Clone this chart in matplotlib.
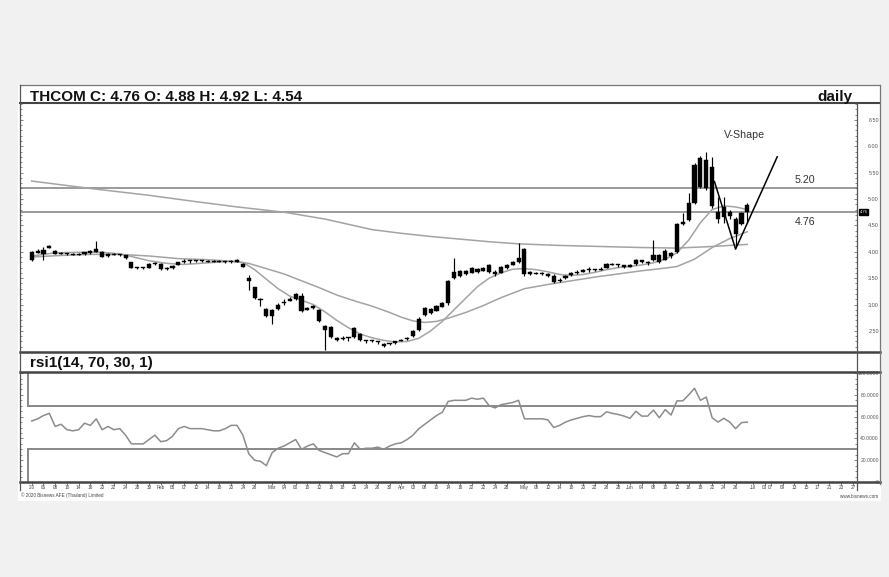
import matplotlib
matplotlib.use("Agg")
import matplotlib.pyplot as plt
import numpy as np
import pandas as pd
from matplotlib.lines import Line2D
from matplotlib.patches import Rectangle
from matplotlib.ticker import MultipleLocator
from matplotlib.transforms import blended_transform_factory

plt.rcParams['font.family'] = ['Liberation Sans', 'DejaVu Sans']

# ------------------------------------------------------------------ data
title = "THCOM C: 4.76 O: 4.88 H: 4.92 L: 4.54"
period = "daily"
rsi_title = "rsi1(14, 70, 30, 1)"

opens = [4.00, 3.98, 3.96, 4.08, 4.02, 3.96, 3.97, 3.95, 3.94, 3.95,
         4.02, 4.00, 4.00, 3.92, 3.95, 3.94, 3.93, 3.80, 3.70, 3.69,
         3.70, 3.76, 3.77, 3.67, 3.69, 3.75, 3.80, 3.83, 3.82, 3.82,
         3.83, 3.81, 3.81, 3.82, 3.80, 3.81, 3.77, 3.50, 3.33, 3.10,
         2.92, 2.78, 2.91, 3.02, 3.07, 3.10, 3.16, 2.90, 2.93, 2.89,
         2.60, 2.58, 2.36, 2.35, 2.36, 2.38, 2.45, 2.32, 2.30, 2.29,
         2.26, 2.25, 2.27, 2.31, 2.34, 2.40, 2.51, 2.80, 2.84, 2.88,
         2.96, 3.02, 3.50, 3.55, 3.63, 3.60, 3.67, 3.64, 3.74, 3.62,
         3.60, 3.70, 3.75, 3.80, 4.06, 3.62, 3.58, 3.60, 3.58, 3.55,
         3.44, 3.50, 3.56, 3.60, 3.62, 3.65, 3.66, 3.66, 3.70, 3.76,
         3.75, 3.72, 3.74, 3.76, 3.84, 3.79, 3.85, 3.93, 3.85, 3.97,
         4.00, 4.52, 4.60, 4.92, 5.77, 5.21, 5.61, 4.76, 4.66, 4.76,
         4.63, 4.52, 4.88]
highs = [4.02, 4.06, 4.09, 4.13, 4.03, 3.99, 3.98, 3.97, 3.97, 4.00,
         4.03, 4.20, 4.01, 3.98, 3.97, 3.96, 3.94, 3.81, 3.71, 3.72,
         3.78, 3.80, 3.78, 3.72, 3.75, 3.81, 3.87, 3.85, 3.84, 3.85,
         3.85, 3.84, 3.85, 3.83, 3.84, 3.86, 3.78, 3.56, 3.34, 3.12,
         2.94, 2.91, 3.02, 3.11, 3.14, 3.22, 3.22, 2.95, 3.00, 2.92,
         2.62, 2.60, 2.38, 2.40, 2.38, 2.58, 2.46, 2.33, 2.32, 2.31,
         2.27, 2.28, 2.31, 2.34, 2.38, 2.51, 2.77, 2.96, 2.93, 3.00,
         3.05, 3.47, 3.89, 3.66, 3.66, 3.72, 3.69, 3.72, 3.76, 3.65,
         3.73, 3.77, 3.82, 4.17, 4.08, 3.64, 3.62, 3.61, 3.59, 3.57,
         3.50, 3.56, 3.62, 3.65, 3.68, 3.71, 3.68, 3.71, 3.79, 3.78,
         3.76, 3.75, 3.77, 3.87, 3.85, 3.82, 4.23, 3.96, 4.05, 4.00,
         4.54, 4.74, 5.11, 5.68, 5.82, 5.90, 5.79, 5.04, 5.04, 4.80,
         4.65, 4.76, 4.92]
lows = [3.82, 3.97, 3.85, 4.07, 3.95, 3.95, 3.94, 3.93, 3.93, 3.94,
        3.96, 3.99, 3.90, 3.91, 3.93, 3.92, 3.87, 3.69, 3.67, 3.68,
        3.69, 3.75, 3.66, 3.66, 3.68, 3.74, 3.79, 3.79, 3.80, 3.81,
        3.81, 3.80, 3.80, 3.78, 3.79, 3.80, 3.71, 3.28, 3.10, 2.98,
        2.77, 2.64, 2.90, 3.00, 3.06, 3.09, 2.86, 2.89, 2.91, 2.67,
        2.13, 2.36, 2.30, 2.32, 2.31, 2.36, 2.30, 2.28, 2.29, 2.26,
        2.20, 2.24, 2.26, 2.30, 2.33, 2.39, 2.50, 2.78, 2.82, 2.87,
        2.95, 3.00, 3.49, 3.52, 3.56, 3.59, 3.59, 3.63, 3.60, 3.55,
        3.59, 3.68, 3.74, 3.78, 3.55, 3.56, 3.57, 3.56, 3.53, 3.40,
        3.42, 3.49, 3.55, 3.58, 3.61, 3.62, 3.64, 3.65, 3.69, 3.74,
        3.71, 3.70, 3.72, 3.74, 3.78, 3.75, 3.83, 3.78, 3.84, 3.89,
        3.98, 4.50, 4.58, 4.90, 5.20, 5.18, 4.83, 4.54, 4.54, 4.62,
        4.10, 4.50, 4.54]
closes = [3.84, 4.02, 4.03, 4.11, 3.96, 3.98, 3.95, 3.94, 3.95, 3.99,
          3.97, 4.05, 3.91, 3.95, 3.94, 3.95, 3.88, 3.70, 3.69, 3.70,
          3.76, 3.79, 3.67, 3.69, 3.73, 3.80, 3.83, 3.82, 3.82, 3.82,
          3.81, 3.80, 3.80, 3.81, 3.83, 3.85, 3.72, 3.45, 3.12, 3.08,
          2.78, 2.90, 3.00, 3.05, 3.10, 3.20, 2.87, 2.93, 2.97, 2.68,
          2.52, 2.38, 2.33, 2.36, 2.37, 2.56, 2.32, 2.31, 2.31, 2.30,
          2.21, 2.27, 2.30, 2.33, 2.37, 2.50, 2.73, 2.93, 2.92, 2.97,
          3.03, 3.45, 3.61, 3.64, 3.58, 3.70, 3.62, 3.70, 3.62, 3.57,
          3.72, 3.74, 3.80, 3.88, 3.57, 3.58, 3.60, 3.58, 3.54, 3.42,
          3.47, 3.55, 3.60, 3.62, 3.66, 3.68, 3.67, 3.67, 3.77, 3.75,
          3.74, 3.73, 3.72, 3.85, 3.80, 3.80, 3.93, 3.80, 4.02, 3.92,
          4.52, 4.57, 4.92, 5.65, 5.23, 5.74, 4.86, 4.62, 4.84, 4.68,
          4.33, 4.73, 4.76]

# moving averages (candle index, price)
ma_short_idx = [0, 4, 8, 12, 15, 17, 20, 23, 26, 30, 34, 36, 38, 40, 42, 44, 46, 48,
                50, 52, 54, 56, 58, 60, 62, 64, 66, 68, 70, 72, 74, 76, 78, 80, 82,
                84, 86, 88, 90, 92, 94, 96, 98, 100, 102, 104, 106, 108, 110, 112,
                114, 116, 118, 120, 122]
ma_short_val = [3.92, 3.98, 3.99, 3.99, 3.96, 3.91, 3.83, 3.78, 3.76, 3.79, 3.82, 3.80,
                3.66, 3.48, 3.30, 3.16, 3.08, 3.00, 2.86, 2.70, 2.56, 2.44, 2.37, 2.32,
                2.29, 2.30, 2.36, 2.50, 2.68, 2.90, 3.12, 3.34, 3.50, 3.60, 3.67, 3.68,
                3.66, 3.62, 3.57, 3.55, 3.57, 3.61, 3.66, 3.70, 3.72, 3.75, 3.79, 3.86,
                3.98, 4.22, 4.55, 4.80, 4.87, 4.85, 4.80]
ma_mid_idx = [0, 5, 10, 15, 20, 25, 30, 34, 37, 40, 43, 46, 49, 52, 55, 58, 61, 63,
              65, 67, 69, 71, 74, 77, 80, 84, 88, 92, 96, 100, 104, 108, 110, 113,
              116, 119, 122]
ma_mid_val = [3.90, 3.93, 3.95, 3.95, 3.92, 3.87, 3.85, 3.82, 3.78, 3.68, 3.58, 3.45,
              3.32, 3.18, 3.07, 2.97, 2.85, 2.76, 2.69, 2.66, 2.68, 2.74, 2.85, 2.98,
              3.13, 3.30, 3.38, 3.45, 3.52, 3.58, 3.64, 3.69, 3.72, 3.86, 4.08, 4.25,
              4.38]
ma_long_idx = [0, 10, 20, 28, 35, 43, 50, 58, 63, 68, 73, 78, 83, 90, 97, 104, 110,
               116, 122]
ma_long_val = [5.34, 5.20, 5.07, 4.95, 4.85, 4.75, 4.62, 4.42, 4.35, 4.29, 4.24,
               4.19, 4.15, 4.12, 4.10, 4.08, 4.07, 4.10, 4.14]

rsi_vals = [56, 58, 61, 63, 51, 53, 48, 47, 48, 54,
            52, 58, 48, 51, 48, 49, 43, 35, 35, 35,
            39, 43, 37, 38, 42, 49, 51, 49, 49, 49,
            48, 47, 47, 49, 52, 52, 43, 26, 20, 19,
            15, 27, 31, 33, 36, 39, 30, 33, 35, 29,
            27, 25, 23, 26, 26, 36, 30, 31, 31, 32,
            30, 33, 35, 36, 39, 43, 49, 53, 57, 61,
            64, 74, 75, 75, 75, 77, 76, 77, 70, 68,
            71, 72, 73, 75, 58, 58, 58, 58, 57, 50,
            52, 55, 57, 58.5, 60, 61, 60, 60, 64.5, 63,
            62, 60.5, 58.5, 65, 60.5, 60.5, 66, 59, 66.5, 61.5,
            74.5, 74.5, 80, 86, 75, 78, 59, 55, 58.5, 55,
            49, 54.5, 55]
rsi_upper, rsi_lower = 70, 30

levels = [5.20, 4.76]
level_labels = ["5.20", "4.76"]
last_price = 4.76
v_idx = [116.4, 120.0, 127.1]
v_price = [5.33, 4.05, 5.80]

holidays = ['2020-02-10', '2020-04-06', '2020-05-01', '2020-05-04', '2020-05-06',
            '2020-06-03', '2020-07-06', '2020-07-28']
tick_dates = [
    '2020-01-02', '2020-01-06', '2020-01-08', '2020-01-10', '2020-01-14', '2020-01-16',
    '2020-01-20', '2020-01-22', '2020-01-24', '2020-01-28', '2020-01-30',
    '2020-02-03', '2020-02-05', '2020-02-07', '2020-02-12', '2020-02-14', '2020-02-18',
    '2020-02-20', '2020-02-24', '2020-02-26',
    '2020-03-02', '2020-03-04', '2020-03-06', '2020-03-10', '2020-03-12', '2020-03-16',
    '2020-03-18', '2020-03-20', '2020-03-24', '2020-03-26', '2020-03-30',
    '2020-04-01', '2020-04-03', '2020-04-08', '2020-04-10', '2020-04-14', '2020-04-16',
    '2020-04-20', '2020-04-22', '2020-04-24', '2020-04-28',
    '2020-05-05', '2020-05-08', '2020-05-12', '2020-05-14', '2020-05-18', '2020-05-20',
    '2020-05-22', '2020-05-26', '2020-05-28',
    '2020-06-01', '2020-06-04', '2020-06-08', '2020-06-10', '2020-06-12', '2020-06-16',
    '2020-06-18', '2020-06-22', '2020-06-24', '2020-06-26',
    '2020-07-01', '2020-07-03', '2020-07-07', '2020-07-09', '2020-07-13', '2020-07-15',
    '2020-07-17', '2020-07-21', '2020-07-23', '2020-07-27']
tick_labels = ["'20", '06', '08', '10', '14', '16', '20', '22', '24', '28', '30',
               'Feb', '05', '07', '12', '14', '18', '20', '24', '26',
               'Mar', '04', '06', '10', '12', '16', '18', '20', '24', '26', '30',
               'Apr', '03', '08', '10', '14', '16', '20', '22', '24', '28',
               'May', '08', '12', '14', '18', '20', '22', '26', '28',
               'Jun', '04', '08', '10', '12', '16', '18', '22', '24', '26',
               'Jul', '03', '07', '09', '13', '15', '17', '21', '23', '27']
price_ticks = [2.5, 3.0, 3.5, 4.0, 4.5, 5.0, 5.5, 6.0, 6.5]
price_tick_labels = ["2.50", "3.00", "3.50", "4.00", "4.50", "5.00", "5.50", "6.00", "6.50"]
rsi_ticks = [0, 20, 40, 60, 80, 100]
rsi_tick_labels = ["0", "20.0000", "40.0000", "60.0000", "80.0000", "100.0000"]
copyright_text = "\u00a9 2020 Bisnews AFE (Thailand) Limited"
site_text = "www.bisnews.com"

# ------------------------------------------------------------------ layout
W, H = 889, 577
def fx(px):
    return px / W
def fy(py):
    return 1 - py / H

fig = plt.figure(figsize=(W / 100, H / 100), dpi=100, facecolor='#f1f1f1')
fig.patches.append(Rectangle((fx(18), fy(501)), fx(881) - fx(18), fy(85) - fy(501),
                             transform=fig.transFigure, facecolor='white',
                             edgecolor='none', zorder=-5))

ax = fig.add_axes([fx(20), fy(352), fx(857) - fx(20), fy(103) - fy(352)])
axr = fig.add_axes([fx(20), fy(482), fx(857) - fx(20), fy(372) - fy(482)])

calendar = pd.bdate_range('2020-01-02', '2020-07-31')
calendar = calendar[~calendar.isin(pd.to_datetime(holidays))]
tick_pos = calendar.get_indexer(pd.to_datetime(tick_dates))

n = len(closes)
x = np.arange(n)
o = np.array(opens); c = np.array(closes)
hi = np.array(highs); lo = np.array(lows)
xmin, xmax = -2, 140.7

# ------------------------------------------------------------------ price panel
for lv in levels:
    ax.axhline(lv, color='#8a8a8a', lw=1.2, zorder=1)
ax.plot(ma_long_idx, ma_long_val, color='#a3a3a3', lw=1.1, zorder=2)
ax.plot(ma_mid_idx, ma_mid_val, color='#a3a3a3', lw=1.1, zorder=2)
ax.plot(ma_short_idx, ma_short_val, color='#a3a3a3', lw=1.1, zorder=2)

ax.vlines(x, lo, hi, color='black', lw=0.85, zorder=3)
body_bottom = np.minimum(o, c)
body_h = np.maximum(np.abs(c - o), 0.022)
ax.bar(x, body_h, bottom=body_bottom, width=0.7, color='black',
       edgecolor='black', linewidth=0.3, zorder=4)

ax.plot(v_idx, v_price, color='black', lw=1.1, zorder=5)
ax.text(121.5, 6.22, "V-Shape", fontsize=7.7, color='#333333', ha='center', va='center')
for lv, lab, dy in zip(levels, level_labels, [0.16, -0.20]):
    ax.text(131.9, lv + dy, lab, fontsize=7.7, color='#333333', ha='center', va='center')

trans = blended_transform_factory(ax.transAxes, ax.transData)
ax.text(1.003, last_price, f"{last_price:.2f}", transform=trans, fontsize=3,
        color='white', ha='left', va='center', zorder=10, clip_on=False,
        bbox=dict(boxstyle='square,pad=0.2', fc='black', ec='black'))

ax.set_xlim(xmin, xmax)
ax.set_ylim(2.10, 6.82)
ax.set_xticks([])
ax.set_yticks(price_ticks)
ax.set_yticklabels(price_tick_labels, ha='right')
ax.yaxis.set_minor_locator(MultipleLocator(0.1))
ax.tick_params(axis='y', which='both', left=True, right=True, labelleft=False,
               labelright=True, direction='in', labelsize=4, pad=15.8,
               colors='#555555', width=0.5)
ax.tick_params(axis='y', which='major', length=2.5)
ax.tick_params(axis='y', which='minor', length=1.5)

# ------------------------------------------------------------------ RSI panel
axr.plot(x, rsi_vals, color='#8c8c8c', lw=1.1, zorder=3)
box_left = -0.65
axr.plot([box_left, xmax], [rsi_upper, rsi_upper], color='#888888', lw=1.4, zorder=2)
axr.plot([box_left, xmax], [rsi_lower, rsi_lower], color='#888888', lw=1.4, zorder=2)
axr.plot([box_left, box_left], [rsi_upper, 100], color='#888888', lw=1.4, zorder=2)
axr.plot([box_left, box_left], [0, rsi_lower], color='#888888', lw=1.4, zorder=2)
axr.set_xlim(xmin, xmax)
axr.set_ylim(0, 101)
axr.set_yticks(rsi_ticks)
axr.set_yticklabels(rsi_tick_labels, ha='right')
axr.yaxis.set_minor_locator(MultipleLocator(5))
axr.tick_params(axis='y', which='both', left=True, right=True, labelleft=False,
                labelright=True, direction='in', labelsize=3.6, pad=15.8,
                colors='#555555', width=0.5)
axr.tick_params(axis='y', which='major', length=2.5)
axr.tick_params(axis='y', which='minor', length=1.5)
axr.set_xticks(tick_pos)
axr.set_xticklabels(tick_labels)
axr.tick_params(axis='x', direction='out', length=2, width=0.5, pad=0.5,
                labelsize=3.4, colors='#444444')

for a in (ax, axr):
    for s in a.spines.values():
        s.set_visible(False)
    a.set_facecolor('white')

# ------------------------------------------------------------------ frame
def hline(py, x0, x1, lw, col):
    fig.add_artist(Line2D([fx(x0), fx(x1)], [fy(py), fy(py)], color=col, lw=lw,
                          transform=fig.transFigure))
def vline(px, y0, y1, lw, col):
    fig.add_artist(Line2D([fx(px), fx(px)], [fy(y0), fy(y1)], color=col, lw=lw,
                          transform=fig.transFigure))

hline(85, 20, 880, 0.9, '#777777')
hline(103, 20, 880, 1.5, '#444444')
hline(352, 20, 880, 1.8, '#444444')
hline(372, 20, 880, 1.8, '#444444')
hline(482, 20, 880, 1.8, '#444444')
vline(20, 85, 490, 0.9, '#555555')
vline(880, 85, 484, 0.9, '#777777')
vline(857, 103, 490, 0.9, '#555555')

fig.text(fx(30), fy(100.7), title, fontsize=11, fontweight='bold', ha='left',
         va='baseline', color='#111111')
fig.text(fx(852), fy(100.5), period, fontsize=11, fontweight='bold', ha='right',
         va='baseline', color='#111111')
fig.text(fx(30), fy(366.5), rsi_title, fontsize=11, fontweight='bold', ha='left',
         va='baseline', color='#111111')
fig.text(fx(21), fy(495.5), copyright_text, fontsize=3.3, ha='left', va='center',
         color='#444444')
fig.text(fx(878), fy(496.5), site_text, fontsize=3.3, ha='right', va='center',
         color='#444444')

fig.savefig("out.png", dpi=100, facecolor=fig.get_facecolor())
